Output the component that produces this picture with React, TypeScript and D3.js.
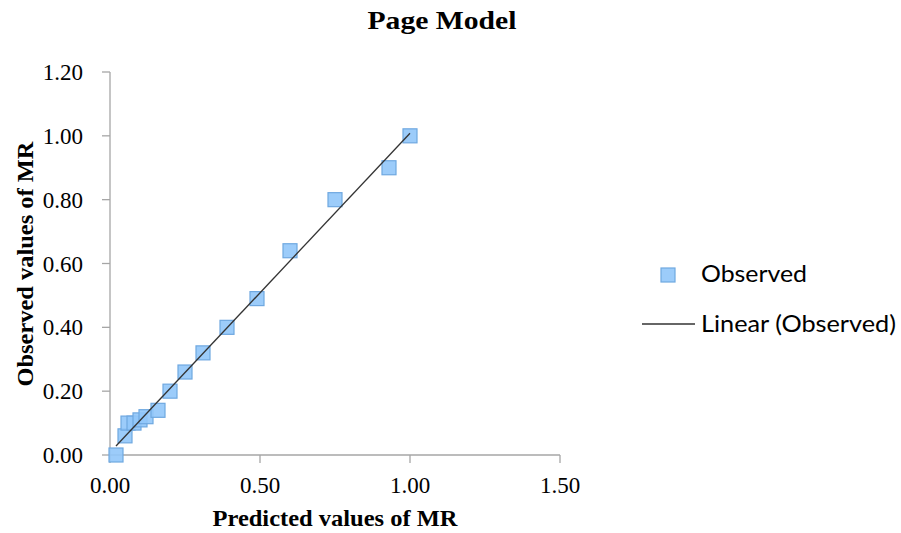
import React from 'react';
import * as d3 from 'd3';

// predicted (x) vs observed (y) values of MR
const predicted = [0.02, 0.05, 0.06, 0.08, 0.10, 0.12, 0.16, 0.20, 0.25, 0.31, 0.39, 0.49, 0.60, 0.75, 0.93, 1.00];
const observed = [0.00, 0.06, 0.10, 0.10, 0.11, 0.12, 0.14, 0.20, 0.26, 0.32, 0.40, 0.49, 0.64, 0.80, 0.90, 1.00];
const xTicks = [0, 0.5, 1.0, 1.5];
const yTicks = [0, 0.2, 0.4, 0.6, 0.8, 1.0, 1.2];

const W = 901;
const H = 533;

const App = () => {
  const ref = React.useRef<SVGSVGElement>(null);

  React.useEffect(() => {
    const svg = d3.select(ref.current);
    svg.selectAll('*').remove();

    const x = d3.scaleLinear().domain([0, 1.5]).range([110, 560]);
    const y = d3.scaleLinear().domain([0, 1.2]).range([455, 72]);
    const serif = '"Liberation Serif", "Times New Roman", serif';
    const sans = 'Lato, "Open Sans", sans-serif';
    const axisColor = '#a6a6a6';
    const markFill = 'rgba(145,198,250,0.9)';
    const markStroke = '#6fa8e0';

    // title
    svg.append('text')
      .attr('x', 442).attr('y', 29)
      .attr('text-anchor', 'middle')
      .attr('textLength', 149).attr('lengthAdjust', 'spacingAndGlyphs')
      .style('font', `bold 26px ${serif}`)
      .text('Page Model');

    // axes
    const g = svg.append('g');
    g.append('line')
      .attr('x1', x(0)).attr('x2', x(1.5))
      .attr('y1', y(0)).attr('y2', y(0))
      .attr('stroke', axisColor).attr('stroke-width', 1.3);
    g.append('line')
      .attr('x1', x(0)).attr('x2', x(0))
      .attr('y1', y(0)).attr('y2', y(1.2))
      .attr('stroke', axisColor).attr('stroke-width', 1.3);

    g.selectAll('.xt')
      .data(xTicks)
      .join('line')
      .attr('x1', d => x(d)).attr('x2', d => x(d))
      .attr('y1', y(0)).attr('y2', y(0) + 8)
      .attr('stroke', axisColor).attr('stroke-width', 1.3);
    g.selectAll('.xl')
      .data(xTicks)
      .join('text')
      .attr('x', d => x(d)).attr('y', y(0) + 38)
      .attr('text-anchor', 'middle')
      .style('font', `23px ${serif}`)
      .text(d => d3.format('.2f')(d));

    g.selectAll('.yt')
      .data(yTicks)
      .join('line')
      .attr('x1', x(0) - 8).attr('x2', x(0))
      .attr('y1', d => y(d)).attr('y2', d => y(d))
      .attr('stroke', axisColor).attr('stroke-width', 1.3);
    g.selectAll('.yl')
      .data(yTicks)
      .join('text')
      .attr('x', x(0) - 27).attr('y', d => y(d) + 8)
      .attr('text-anchor', 'end')
      .style('font', `23px ${serif}`)
      .text(d => d3.format('.2f')(d));

    // axis titles
    svg.append('text')
      .attr('x', 335).attr('y', 526)
      .attr('text-anchor', 'middle')
      .attr('textLength', 245).attr('lengthAdjust', 'spacingAndGlyphs')
      .style('font', `bold 24px ${serif}`)
      .text('Predicted values of MR');
    svg.append('text')
      .attr('transform', `translate(33,264) rotate(-90)`)
      .attr('text-anchor', 'middle')
      .attr('textLength', 245).attr('lengthAdjust', 'spacingAndGlyphs')
      .style('font', `bold 24px ${serif}`)
      .text('Observed values of MR');

    // linear trendline (least squares)
    const n = predicted.length;
    const mx = d3.mean(predicted)!;
    const my = d3.mean(observed)!;
    let sxy = 0, sxx = 0;
    for (let i = 0; i < n; i++) {
      sxy += (predicted[i] - mx) * (observed[i] - my);
      sxx += (predicted[i] - mx) ** 2;
    }
    const slope = sxy / sxx;
    const icpt = my - slope * mx;
    const [x0, x1] = d3.extent(predicted) as [number, number];

    // markers
    const s = 14;
    svg.append('g')
      .selectAll('rect')
      .data(predicted.map((p, i) => [p, observed[i]]))
      .join('rect')
      .attr('x', d => x(d[0]) - s / 2)
      .attr('y', d => y(d[1]) - s / 2)
      .attr('width', s).attr('height', s)
      .attr('fill', markFill)
      .attr('stroke', markStroke).attr('stroke-width', 1.2);

    // trendline drawn over the markers, like Excel
    svg.append('line')
      .attr('x1', x(x0)).attr('y1', y(icpt + slope * x0))
      .attr('x2', x(x1)).attr('y2', y(icpt + slope * x1))
      .attr('stroke', '#333').attr('stroke-width', 1.3);

    // legend
    const lg = svg.append('g');
    lg.append('rect')
      .attr('x', 661).attr('y', 268).attr('width', s).attr('height', s)
      .attr('fill', markFill)
      .attr('stroke', markStroke).attr('stroke-width', 1.2);
    lg.append('text')
      .attr('x', 701).attr('y', 282)
      .attr('textLength', 106).attr('lengthAdjust', 'spacingAndGlyphs')
      .style('font', `23px ${sans}`)
      .text('Observed');
    lg.append('line')
      .attr('x1', 642).attr('x2', 695)
      .attr('y1', 324).attr('y2', 324)
      .attr('stroke', '#333').attr('stroke-width', 1.3);
    lg.append('text')
      .attr('x', 701).attr('y', 332)
      .attr('textLength', 195).attr('lengthAdjust', 'spacingAndGlyphs')
      .style('font', `23px ${sans}`)
      .text('Linear (Observed)');
  }, []);

  return (
    <svg
      ref={ref}
      width={W}
      height={H}
      style={{ position: 'absolute', left: 0, top: 0, background: '#fff' }}
    />
  );
};

export default App;
